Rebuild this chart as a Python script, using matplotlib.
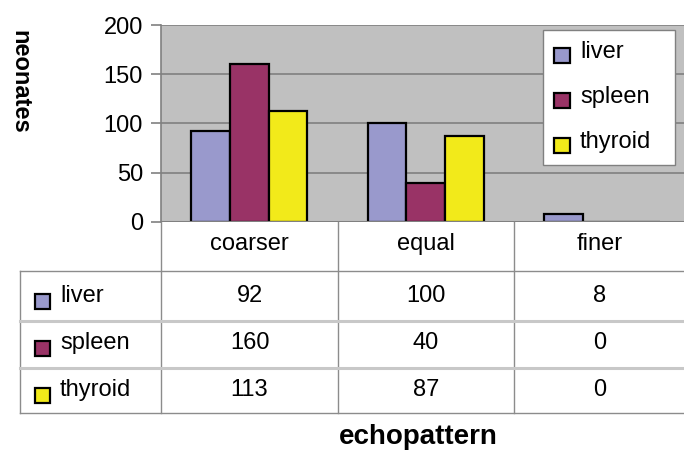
import matplotlib
matplotlib.use("Agg")
import matplotlib.pyplot as plt
from matplotlib.patches import Rectangle
from matplotlib.lines import Line2D
import numpy as np

categories = ["coarser", "equal", "finer"]
series = ["liver", "spleen", "thyroid"]
liver = [92, 100, 8]
spleen = [160, 40, 0]
thyroid = [113, 87, 0]
values = [liver, spleen, thyroid]
colors = ["#9999cc", "#993366", "#f2ea1a"]
yticks = [0, 50, 100, 150, 200]

plt.rcParams['font.family'] = ['Liberation Sans', 'DejaVu Sans']

W, H = 684, 451
fig = plt.figure(figsize=(W / 100, H / 100), dpi=100)

def fx(px):
    return px / W

def fy(py):
    return 1 - py / H

left, right, top, bottom = 161, 690.5, 25, 222
ax = fig.add_axes([fx(left), fy(bottom), fx(right - left), (bottom - top) / H])
ax.set_facecolor("#c0c0c0")
n = len(categories)
x = np.arange(n)
bw = 0.22
for i, (vals, c) in enumerate(zip(values, colors)):
    ax.bar(x + (i - 1) * bw, vals, width=bw, color=c, edgecolor="black",
           linewidth=1.6, zorder=3)
ax.set_xlim(-0.5, n - 0.5)
ax.set_ylim(0, 200)
ax.set_yticks(yticks)
ax.set_yticklabels([str(v) for v in yticks], fontsize=17)
ax.set_xticks([])
ax.yaxis.grid(True, color="#808080", linewidth=1.2, zorder=0)
ax.set_axisbelow(True)
for s in ["top", "right", "bottom"]:
    ax.spines[s].set_visible(False)
ax.spines["left"].set_color("#808080")
ax.spines["left"].set_linewidth(1.2)
ax.tick_params(axis="y", length=7, width=1.2, color="#808080", pad=6)
ax.axhline(0, color="#808080", linewidth=1.5, zorder=4)

# y label
fig.text(fx(20), fy(82), "neonates", rotation=-90, fontsize=17, fontweight="bold",
         ha="center", va="center")

# legend (drawn manually in figure pixels)
fig.add_artist(Rectangle((fx(543), fy(165)), (675 - 543) / W, (165 - 30) / H,
                         facecolor="white", edgecolor="#808080", linewidth=1.0,
                         transform=fig.transFigure, zorder=5))
leg_y = [55, 100, 145]
for ly, name, c in zip(leg_y, series, colors):
    fig.add_artist(Rectangle((fx(554), fy(ly + 8)), 16 / W, 15 / H,
                             facecolor=c, edgecolor="black", linewidth=1.6,
                             transform=fig.transFigure, zorder=6))
    fig.text(fx(580), fy(ly - 3), name, fontsize=17, ha="left", va="center", zorder=7)

# data table
col_lines = [161, 338, 514]
tbl_top, tbl_bot, tbl_left = 271, 413, 20
row_lines = [321, 368]
lc = "#8c8c8c"
for cx in col_lines:
    fig.add_artist(Line2D([fx(cx), fx(cx)], [fy(bottom), fy(tbl_bot)], color=lc, lw=1.0))
fig.add_artist(Line2D([fx(tbl_left), fx(tbl_left)], [fy(tbl_top), fy(tbl_bot)], color=lc, lw=1.0))
fig.add_artist(Line2D([fx(tbl_left), 1], [fy(tbl_top), fy(tbl_top)], color=lc, lw=1.0))
fig.add_artist(Line2D([fx(tbl_left), 1], [fy(tbl_bot), fy(tbl_bot)], color=lc, lw=1.0))
for ry in row_lines:
    fig.add_artist(Line2D([fx(tbl_left), 1], [fy(ry), fy(ry)], color="#c8c8c8", lw=2.2))

col_centers = [249.5, 426, 600]
for cx, cat in zip(col_centers, categories):
    fig.text(fx(cx), fy(244), cat, fontsize=17, ha="center", va="center")

row_centers = [297, 344, 391]
for ry, name, vals, c in zip(row_centers, series, values, colors):
    fig.add_artist(Rectangle((fx(35), fy(ry + 12)), 15 / W, 15 / H,
                             facecolor=c, edgecolor="black", linewidth=1.6,
                             transform=fig.transFigure))
    fig.text(fx(60), fy(ry - 1), name, fontsize=17, ha="left", va="center")
    for cx, v in zip(col_centers, vals):
        fig.text(fx(cx), fy(ry - 1), str(v), fontsize=17, ha="center", va="center")

fig.text(fx(418), fy(437), "echopattern", fontsize=20, fontweight="bold",
         ha="center", va="center")

fig.savefig("out.png", dpi=100)
